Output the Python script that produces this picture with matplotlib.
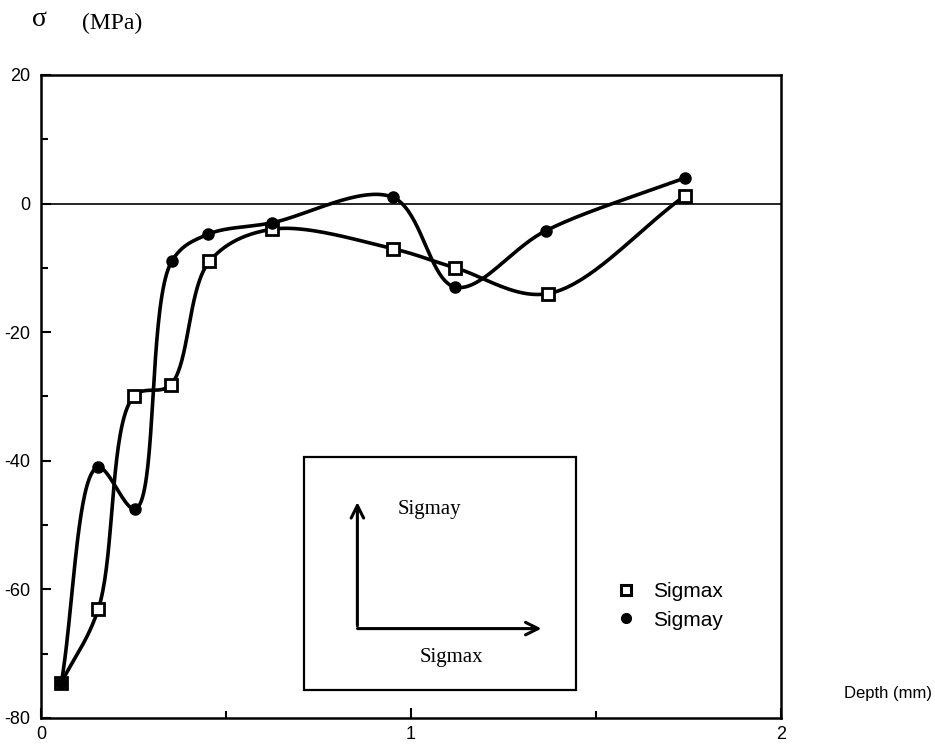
import numpy as np
import matplotlib
matplotlib.use("Agg")
import matplotlib.pyplot as plt
from matplotlib.lines import Line2D

# values
depth_x = [0.055, 0.155, 0.25, 0.35, 0.455, 0.623, 0.95, 1.12, 1.37, 1.74]
sigmax = [-74.5, -63.0, -30.0, -28.2, -9.0, -4.0, -7.0, -10.0, -14.0, 1.2]
depth_y = [0.055, 0.153, 0.255, 0.353, 0.45, 0.623, 0.95, 1.12, 1.365, 1.74]
sigmay = [-74.5, -41.0, -47.5, -9.0, -4.8, -3.0, 1.0, -13.0, -4.2, 4.0]

serif = "Liberation Serif"
sans = "Liberation Sans"
plt.rcParams["axes.unicode_minus"] = False


def smooth(x, y, sx=370.0, sy=6.43, n=40):
    # centripetal catmull-rom, drawn in pixel-like units
    p = np.column_stack([np.asarray(x) * sx, np.asarray(y) * sy])
    p = np.vstack([2 * p[0] - p[1], p, 2 * p[-1] - p[-2]])
    out = []
    for i in range(1, len(p) - 2):
        p0, p1, p2, p3 = p[i - 1], p[i], p[i + 1], p[i + 2]
        t0 = 0.0
        t1 = t0 + np.linalg.norm(p1 - p0) ** 0.5
        t2 = t1 + np.linalg.norm(p2 - p1) ** 0.5
        t3 = t2 + np.linalg.norm(p3 - p2) ** 0.5
        t = np.linspace(t1, t2, n)[:, None]
        a1 = (t1 - t) / (t1 - t0) * p0 + (t - t0) / (t1 - t0) * p1
        a2 = (t2 - t) / (t2 - t1) * p1 + (t - t1) / (t2 - t1) * p2
        a3 = (t3 - t) / (t3 - t2) * p2 + (t - t2) / (t3 - t2) * p3
        b1 = (t2 - t) / (t2 - t0) * a1 + (t - t0) / (t2 - t0) * a2
        b2 = (t3 - t) / (t3 - t1) * a2 + (t - t1) / (t3 - t1) * a3
        c = (t2 - t) / (t2 - t1) * b1 + (t - t1) / (t2 - t1) * b2
        out.append(c)
    c = np.vstack(out)
    return c[:, 0] / sx, c[:, 1] / sy


fig = plt.figure(figsize=(9.35, 7.56), dpi=100)
ax = fig.add_axes([0.0439, 0.0503, 0.7914, 0.8505])

ax.axhline(0, color="black", lw=1.2, zorder=1)

cx, cy = smooth(depth_x, sigmax)
ax.plot(cx, cy, color="black", lw=2.6, zorder=2)
cx, cy = smooth(depth_y, sigmay)
ax.plot(cx, cy, color="black", lw=2.6, zorder=2)

ax.plot(depth_x, sigmax, ls="none", marker="s", ms=8, mfc="white",
        mec="black", mew=2, zorder=3)
ax.plot(depth_y, sigmay, ls="none", marker="o", ms=8, mfc="black",
        mec="black", zorder=4)

ax.set_xlim(0, 2)
ax.set_ylim(-80, 20)
ax.set_xticks([0, 1, 2])
ax.set_xticks([0.5, 1.5], minor=True)
ax.set_yticks([-80, -60, -40, -20, 0, 20])
ax.set_yticks(np.arange(-70, 20, 20), minor=True)
ax.tick_params(direction="in", length=7, width=1.5, labelsize=13, pad=6)
ax.tick_params(which="minor", direction="in", length=5, width=1.5)
ax.tick_params(axis="y", pad=8)
for lab in ax.get_xticklabels() + ax.get_yticklabels():
    lab.set_fontfamily(sans)
for s in ax.spines.values():
    s.set_linewidth(1.8)

# inset box with the two arrows
ax.add_patch(plt.Rectangle((0.71, -75.6), 0.735, 36.2, fill=False,
                           lw=1.6, ec="black", zorder=5))
ax.annotate("", xy=(0.855, -46.0), xytext=(0.855, -66.1),
            arrowprops=dict(arrowstyle="->,head_length=0.9,head_width=0.45",
                            lw=2.2, color="black"))
ax.annotate("", xy=(1.36, -66.1), xytext=(0.848, -66.1),
            arrowprops=dict(arrowstyle="->,head_length=0.9,head_width=0.45",
                            lw=2.2, color="black"))
ax.text(1.05, -47.6, "Sigmay", ha="center", va="center", fontsize=15,
        family=serif)
ax.text(1.11, -70.6, "Sigmax", ha="center", va="center", fontsize=15,
        family=serif)

handles = [Line2D([], [], ls="none", marker="s", ms=7, mfc="white",
                  mec="black", mew=2.2),
           Line2D([], [], ls="none", marker="o", ms=7, mfc="black",
                  mec="black")]
ax.legend(handles, ["Sigmax", "Sigmay"], loc="center left",
          bbox_to_anchor=(0.762, 0.174), frameon=False, handlelength=1.0,
          handletextpad=0.8, labelspacing=0.45, borderpad=0,
          prop={"family": sans, "size": 15})

fig.text(0.034, 0.974, "σ", fontsize=20, family=serif, ha="left",
         va="center")
fig.text(0.088, 0.969, "(MPa)", fontsize=17, family=serif, ha="left",
         va="center")
fig.text(0.903, 0.083, "Depth (mm)", fontsize=12, family=sans, ha="left",
         va="center")

fig.savefig("out.png", dpi=100)
